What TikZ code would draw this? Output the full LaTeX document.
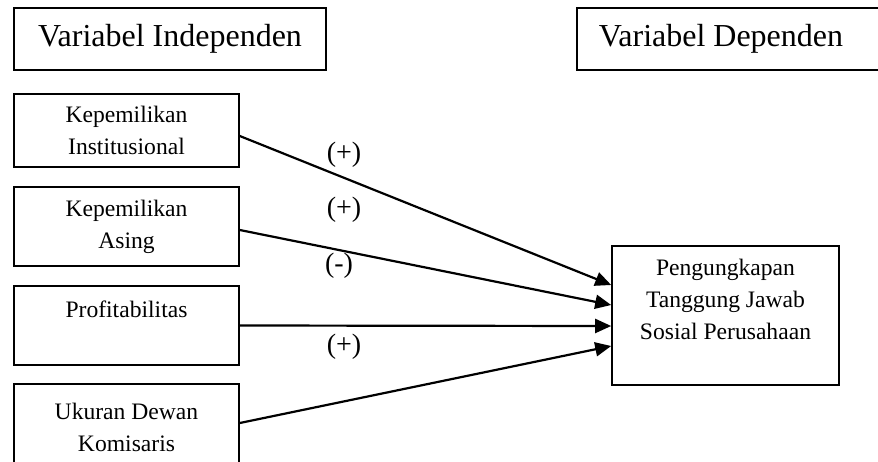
\documentclass[tikz,border=0pt]{standalone}
\usepackage{fontspec}
\setmainfont{Liberation Serif}
\usetikzlibrary{arrows.meta}
\tikzset{
  varbox/.style={draw=black, line width=0.8pt, inner sep=0pt, align=center,
    font=\fontsize{11.8}{16}\selectfont, minimum width=112.5pt},
  headbox/.style={draw=black, line width=0.8pt, inner sep=0pt,
    font=\fontsize{16}{19}\selectfont, minimum height=31pt},
  sign/.style={font=\fontsize{14}{16}\selectfont, inner sep=0pt},
  link/.style={-{Triangle[length=8pt,width=7pt]}, line width=1.1pt}
}

\begin{document}
\begin{tikzpicture}[x=0.5pt, y=-0.5pt]
    \useasboundingbox (0,0) rectangle (878,461);
    \clip (0,0) rectangle (878,461);
    % judul kolom
    \node[headbox, minimum width=156pt] (indep) at (170,39) {Variabel Independen};
    \node[headbox, anchor=west, inner xsep=11pt, text width=140pt, align=flush left]
      (dep) at (576,39) {Variabel Dependen};
    % variabel independen
    \node[varbox, minimum height=36.5pt] (inst) at (126.5,130.5) {Kepemilikan\\Institusional};
    \node[varbox, minimum height=39.5pt] (asing) at (126.5,226.5) {Kepemilikan\\Asing};
    \node[varbox, minimum height=39.5pt] (profit) at (126.5,325.5) {Profitabilitas\\\mbox{}};
    \node[varbox, minimum height=43pt] (ukuran) at (126.5,427) {Ukuran Dewan\\Komisaris};
    % variabel dependen
    \node[varbox, minimum width=113.5pt, minimum height=69.5pt] (csr) at (725.5,315.5)
      {Pengungkapan\\Tanggung Jawab\\Sosial Perusahaan\\\mbox{}};
    % panah
    \draw[link] ([yshift=-2.75pt]inst.east) -- ([yshift=15.25pt]csr.west);
    \draw[link] ([yshift=-1.75pt]asing.east) -- ([yshift=5.25pt]csr.west);
    \draw[link] (profit.east) -- ([yshift=-5.25pt]csr.west);
    \draw[link] ([yshift=2pt]ukuran.east) -- ([yshift=-15.25pt]csr.west);
    % tanda
    \node[sign] (s1) at (344,155) {(+)};
    \node[sign] (s2) at (344,210) {(+)};
    \node[sign] (s3) at (339,266) {(-)};
    \node[sign] (s4) at (344,347) {(+)};
\end{tikzpicture}
\end{document}
